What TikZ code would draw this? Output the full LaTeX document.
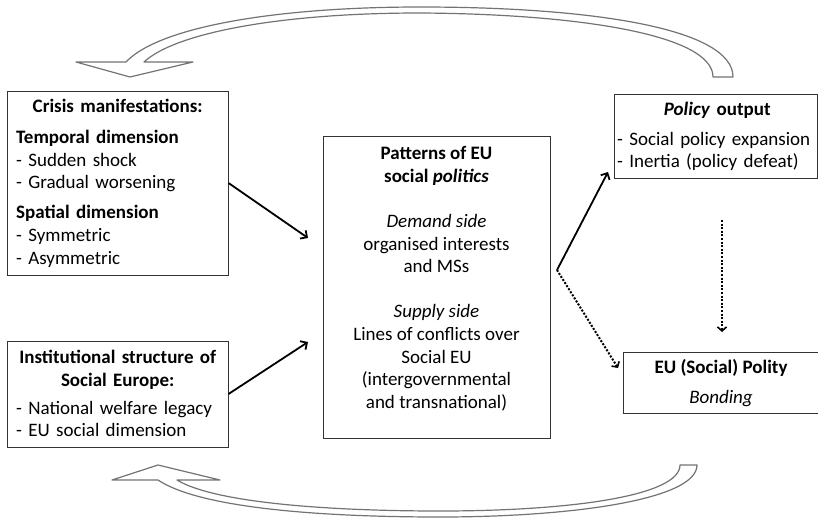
\documentclass[tikz,border=0pt]{standalone}
\usepackage{fontspec}
\setmainfont{Carlito}
\usetikzlibrary{arrows.meta}
\begin{document}
\begin{tikzpicture}[x=1pt,y=-1pt,
  box/.style={draw=black!80, line width=1pt, inner sep=0pt, fill=white},
  txt/.style={font=\fontsize{19}{22.6}\selectfont, inner sep=0pt},
  link/.style={line width=1.8pt, -{Straight Barb[length=5pt,width=10pt,line width=1.8pt]}},
  dlink/.style={line width=2pt, dash pattern=on 2pt off 1.6pt, -{Straight Barb[length=4pt,width=9pt,line width=1.6pt]}},
  bigarrow/.style={draw=black!55, line width=1.2pt, fill=white, line join=round}]
\useasboundingbox (0,0) rectangle (818,519);

% big curved arrows
\draw[bigarrow] (713,77) .. controls (713,35) and (580,14) .. (420,13)
  .. controls (280,13) and (175,33) .. (144,62) -- (193,62) -- (130,77) -- (76,62) -- (126,62)
  .. controls (160,26) and (280,7) .. (420,7) .. controls (590,7) and (733,28) .. (733,77) -- cycle;
\draw[bigarrow] (177,480) -- (220,480) -- (158,465) -- (112,480) -- (158,480)
  .. controls (200,508) and (320,517) .. (440,517) .. controls (570,517) and (697,500) .. (697,465)
  -- (680,465) .. controls (680,496) and (570,511) .. (440,511) .. controls (330,511) and (215,503) .. (177,480) -- cycle;

% boxes
\node[box, minimum width=221pt, minimum height=184pt] (crisis) at (117.5,183) {};
\node[box, minimum width=221pt, minimum height=106pt] (inst) at (117.5,394) {};
\node[box, minimum width=227pt, minimum height=302pt] (central) at (436.5,287) {};
\node[box, minimum width=203.5pt, minimum height=84pt] (policy) at (715.75,136) {};
\node[box, minimum width=195pt, minimum height=61pt] (eu) at (720.5,382.5) {};

% texts
\node[txt, text width=203pt, align=left, anchor=north west] (crisistxt) at (16,96.7)
  {\strut\makebox[\linewidth]{\bfseries Crisis manifestations:}\\[8.4pt]
   \textbf{Temporal dimension}\\
   - Sudden shock\\
   - Gradual worsening\\[7.4pt]
   \textbf{Spatial dimension}\\
   - Symmetric\\
   - Asymmetric};
\node[txt, text width=203pt, align=left, anchor=north west] (insttxt) at (16,347.7)
  {\strut\makebox[\linewidth]{\bfseries Institutional structure of}\\
   \makebox[\linewidth]{\bfseries Social Europe:}\\[5.4pt]
   - National welfare legacy\\
   - EU social dimension};
\node[txt, align=center, anchor=north] (centraltxt) at (436.5,143.7)
  {\strut\textbf{Patterns of EU}\\
   \textbf{social \textit{politics}}\\[22.6pt]
   \textit{Demand side}\\
   organised interests\\
   and MSs\\[22.6pt]
   \textit{Supply side}\\
   Lines of conflicts over\\
   Social EU\\
   (intergovernmental\\
   and transnational)};
\node[txt, text width=200pt, align=left, anchor=north west] (policytxt) at (617,99.7)
  {\strut\makebox[\linewidth]{\bfseries\textit{Policy} output}\\[7pt]
   - Social policy expansion\\
   - Inertia (policy defeat)};
\node[txt, align=center, anchor=north] (eutxt) at (721,357.7)
  {\strut\textbf{EU (Social) Polity}\\[7.4pt]
   \textit{Bonding}};

% connectors
\coordinate (c1) at (308,238);
\coordinate (c2) at (308,342);
\coordinate (fork) at (557,270);
\coordinate (p1) at (608,172);
\coordinate (e1) at (618,368);
\coordinate (v1) at (722,220);
\coordinate (v2) at (722,332);
\draw[link] (crisis.east) -- (c1);
\draw[link] (inst.east) -- (c2);
\draw[link] (fork) -- (p1);
\draw[dlink] (fork) -- (e1);
\draw[dlink] (v1) -- (v2);
\end{tikzpicture}
\end{document}
